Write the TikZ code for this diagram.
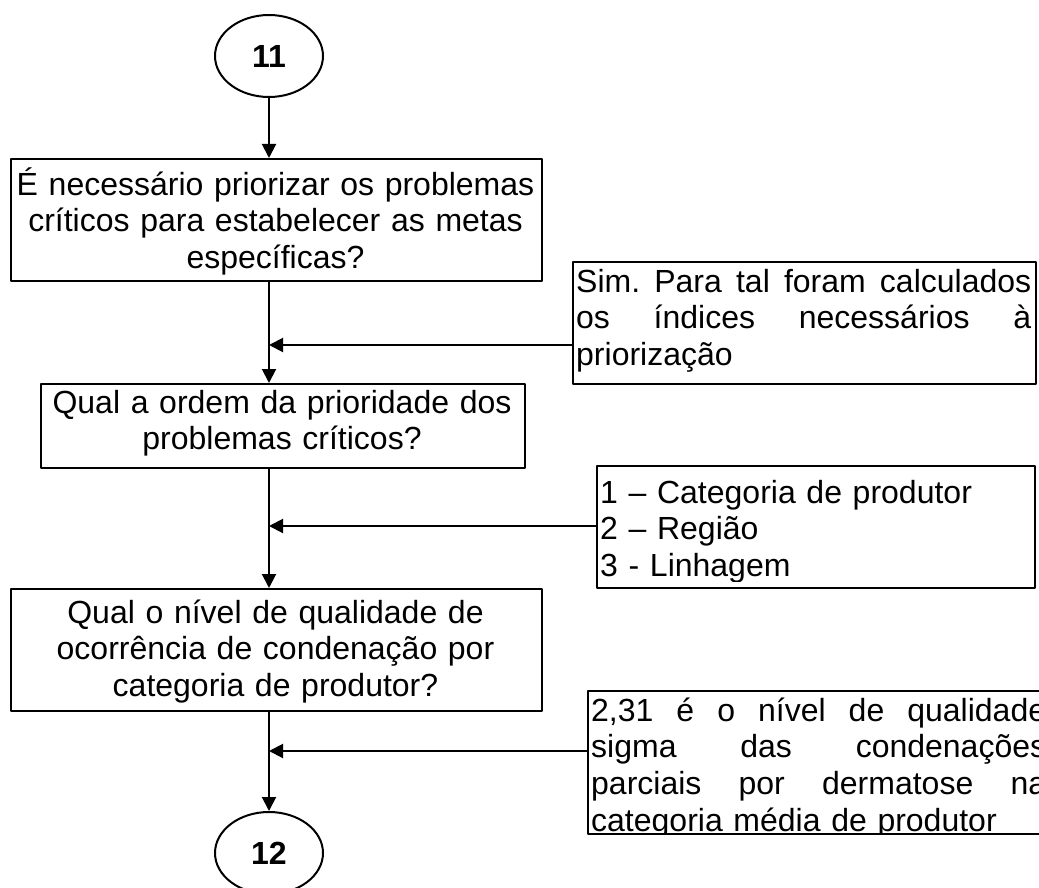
\documentclass[tikz,border=0pt]{standalone}
\usepackage{fontspec}
\setmainfont{Liberation Sans}
\usetikzlibrary{arrows.meta,shapes.geometric}
\frenchspacing

\newcommand{\linhaJ}[1]{\leavevmode\hbox to 455pt{#1}}

\tikzset{
  caixa/.style={draw, rectangle, line width=2pt, inner sep=0pt, anchor=north west},
  conector/.style={draw, ellipse, line width=2pt, inner sep=0pt,
    minimum width=108pt, minimum height=82pt,
    font=\fontsize{32}{36}\selectfont\bfseries},
  texto/.style={inner sep=0pt, font=\fontsize{32}{36.8}\selectfont},
  seta/.style={-{Triangle[length=14pt,width=14pt]}, line width=2pt},
}

\begin{document}
\begin{tikzpicture}
    [x=1pt, y=-1pt,
    line cap=round,
    line join=round]

    \clip (0,0) rectangle (1039,888);
    \coordinate (eixo) at (269,0);

    % conectores de pagina
    \node[conector] (n11) at (269,56) {11};
    \node[conector] (n12) at (269,853) {12};

    % perguntas
    \node[caixa, minimum width=531pt, minimum height=122pt] (q1) at (10,158) {};
    \node[caixa, minimum width=484pt, minimum height=84pt] (q2) at (40,383) {};
    \node[caixa, minimum width=531pt, minimum height=122pt] (q3) at (10,588) {};

    % respostas
    \node[caixa, minimum width=463pt, minimum height=122pt] (rA) at (572,261) {};
    \node[caixa, minimum width=438pt, minimum height=122pt] (rB) at (596,465) {};
    \node[caixa, minimum width=465pt, minimum height=143pt] (rC) at (587,690) {};

    \begin{scope}
        \clip (q1.north west) rectangle ([yshift=2pt]q1.south east);
        \node[texto, text width=520pt, align=center, anchor=base] (t1) at (275.5,195)
            {É necessário priorizar os problemas\\críticos para estabelecer as metas\\específicas?};
    \end{scope}
    \begin{scope}
        \clip (q2.north west) rectangle ([yshift=2pt]q2.south east);
        \node[texto, text width=476pt, align=center, anchor=base] (t2) at (282,413)
            {Qual a ordem da prioridade dos\\problemas críticos?};
    \end{scope}
    \begin{scope}
        \clip (q3.north west) rectangle ([yshift=8pt]q3.south east);
        \node[texto, text width=520pt, align=center, anchor=base] (t3) at (275.5,623)
            {Qual o nível de qualidade de\\ocorrência de condenação por\\categoria de produtor?};
    \end{scope}

    \begin{scope}
        \clip (rA.north west) rectangle ([yshift=10pt]rA.south east);
        \node[texto, text width=455pt, align=left, anchor=base west] (tA) at (576,292)
            {\linhaJ{Sim.\hfill Para\hfill tal\hfill foram\hfill calculados}\\
             \linhaJ{os\hfill índices\hfill necessários\hfill à}\\
             priorização};
    \end{scope}
    \begin{scope}
        \clip (rB.north west) rectangle ([yshift=8pt]rB.south east);
        \node[texto, text width=430pt, align=left, anchor=base west] (tB) at (600,503)
            {1 – Categoria de produtor\\2 – Região\\3 - Linhagem};
    \end{scope}
    \begin{scope}
        \clip (rC.north west) rectangle ([yshift=2pt]rC.south east);
        \node[texto, text width=455pt, align=left, anchor=base west] (tC) at (591,721)
            {\linhaJ{2,31\hfill é\hfill o\hfill nível\hfill de\hfill qualidade}\\
             \linhaJ{sigma\hfill das\hfill condenações}\\
             \linhaJ{parciais\hfill por\hfill dermatose\hfill na}\\
             categoria média de produtor};
    \end{scope}

    % fluxo principal
    \draw[seta] (n11.south) -- (eixo |- q1.north);
    \draw[seta] (eixo |- q1.south) -- (eixo |- q2.north);
    \draw[seta] (eixo |- q2.south) -- (eixo |- q3.north);
    \draw[seta] (eixo |- q3.south) -- (n12.north);

    % respostas ao fluxo
    \coordinate (jA) at (269,345);
    \coordinate (jB) at (269,526);
    \coordinate (jC) at (269,751);
    \draw[seta] (rA.west |- jA) -- (jA);
    \draw[seta] (rB.west |- jB) -- (jB);
    \draw[seta] (rC.west |- jC) -- (jC);
\end{tikzpicture}
\end{document}
